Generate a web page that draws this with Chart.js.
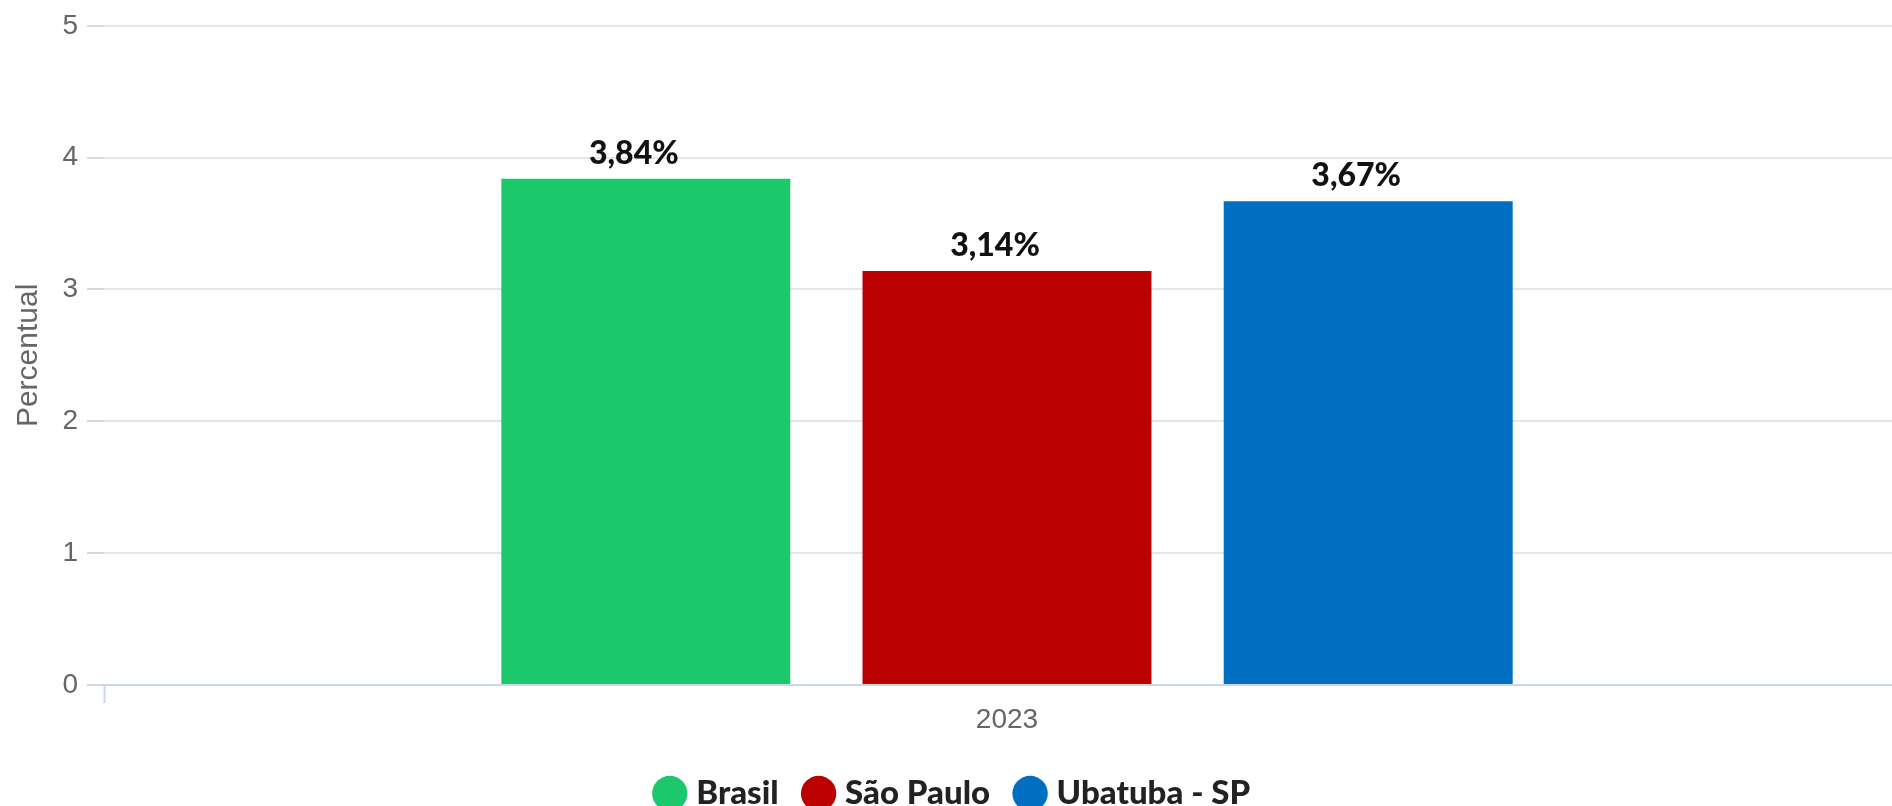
<!DOCTYPE html>
<html>
<head>
<meta charset="utf-8">
<script src="https://cdn.jsdelivr.net/npm/chart.js@4/dist/chart.umd.min.js"></script>
<style>
  html, body { margin: 0; padding: 0; background: #ffffff; overflow: hidden; }
  #wrap { width: 1910px; height: 806px; position: relative; }
</style>
</head>
<body>
<div id="wrap"><canvas id="c" width="1910" height="806"></canvas></div>
<script>
const categories = ['2023'];
const seriesNames = ['Brasil', 'São Paulo', 'Ubatuba - SP'];
const brasilValues = [3.84];
const saoPauloValues = [3.14];
const ubatubaValues = [3.67];
const yTicks = [0, 1, 2, 3, 4, 5];
const yTitle = 'Percentual';

const colors = ['#1dc76b', '#bb0000', '#006ec1'];

const valueLabels = {
  id: 'valueLabels',
  afterDatasetsDraw(chart) {
    const ctx = chart.ctx;
    ctx.save();
    ctx.font = '900 32px Lato, "Liberation Sans", sans-serif';
    ctx.fillStyle = '#111111';
    ctx.textAlign = 'center';
    ctx.textBaseline = 'bottom';
    chart.data.datasets.forEach((ds, i) => {
      const meta = chart.getDatasetMeta(i);
      meta.data.forEach((bar, j) => {
        const v = ds.data[j];
        const txt = v.toFixed(2).replace('.', ',') + '%';
        ctx.fillText(txt, bar.x - 12, bar.y - 9);
      });
    });
    ctx.restore();
  }
};

new Chart(document.getElementById('c'), {
  type: 'bar',
  data: {
    labels: categories,
    datasets: [
      { label: seriesNames[0], data: brasilValues, backgroundColor: colors[0], borderWidth: 0 },
      { label: seriesNames[1], data: saoPauloValues, backgroundColor: colors[1], borderWidth: 0 },
      { label: seriesNames[2], data: ubatubaValues, backgroundColor: colors[2], borderWidth: 0 }
    ]
  },
  options: {
    responsive: false,
    animation: false,
    devicePixelRatio: 1,
    categoryPercentage: 0.6,
    barPercentage: 0.8,
    layout: { padding: { top: 23, left: 0, right: 0, bottom: -14 } },
    plugins: {
      tooltip: { enabled: false },
      legend: {
        position: 'bottom',
        labels: {
          usePointStyle: true,
          pointStyle: 'circle',
          boxWidth: 20,
          boxHeight: 25,
          padding: 30,
          color: '#222222',
          font: { family: 'Lato, "Liberation Sans", sans-serif', size: 33, weight: '900' }
        }
      }
    },
    scales: {
      x: {
        offset: true,
        afterFit(scale) { scale.height = 62; },
        border: { display: true, color: '#ccd6eb', width: 2 },
        grid: { display: true, drawOnChartArea: false, drawTicks: true, tickLength: 18, tickColor: '#ccd6eb', tickWidth: 2, offset: true },
        ticks: { color: '#666666', padding: 0, font: { family: '"Liberation Sans", Arial, sans-serif', size: 28 } }
      },
      y: {
        min: 0,
        max: 5,
        afterBuildTicks(scale) { scale.ticks = yTicks.map(v => ({ value: v })); },
        afterFit(scale) { scale.width = 104; },
        border: { display: false },
        grid: { color: '#e6e6e6', lineWidth: 2, tickLength: 17, tickColor: '#d3dae6', drawTicks: true },
        ticks: { color: '#666666', padding: 9, font: { family: '"Liberation Sans", Arial, sans-serif', size: 28 } },
        title: {
          display: true,
          text: yTitle,
          color: '#666666',
          padding: { top: 11, bottom: 0 },
          font: { family: '"Liberation Sans", Arial, sans-serif', size: 30 }
        }
      }
    }
  },
  plugins: [valueLabels]
});
</script>
</body>
</html>
